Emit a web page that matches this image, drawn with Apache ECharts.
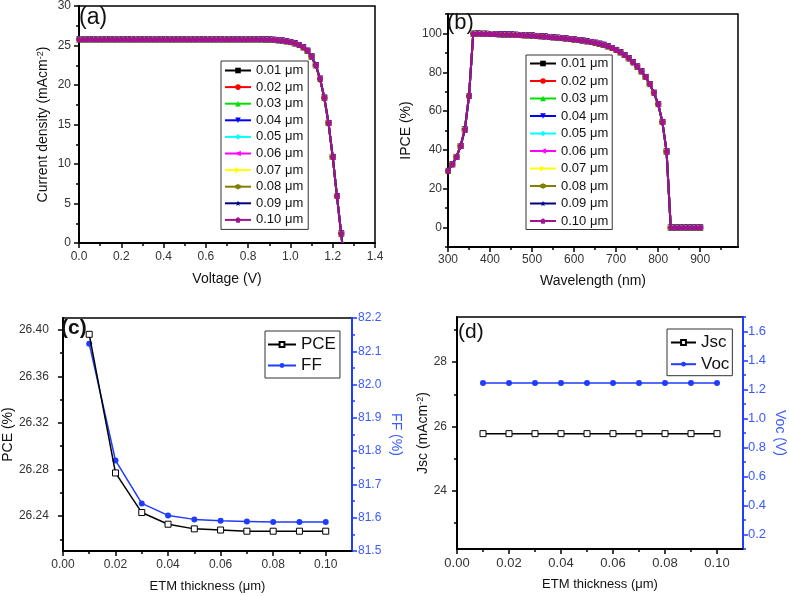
<!DOCTYPE html>
<html><head><meta charset="utf-8">
<script src="https://cdn.jsdelivr.net/npm/echarts@6/dist/echarts.min.js"></script>
<style>html,body{margin:0;padding:0;background:#fff}#c{width:789px;height:596px}</style>
</head><body><div id="c"></div><script>
// ---------- data ----------
const thicknessNames = ['0.01 μm','0.02 μm','0.03 μm','0.04 μm','0.05 μm','0.06 μm','0.07 μm','0.08 μm','0.09 μm','0.10 μm'];
const seriesColors = ['#000000','#ff0000','#00e000','#0000ff','#00ffff','#ff00ff','#ffff00','#808000','#000080','#a0148f'];
const seriesSymbols = ['rect','circle','triangle','triangle','diamond','triangle','triangle',
  'path://M-8.66,-5 L0,-10 8.66,-5 8.66,5 0,10 -8.66,5Z',
  'path://M0,-10 L2.35,-3.24 9.51,-3.09 3.8,1.24 5.88,8.09 0,4 -5.88,8.09 -3.8,1.24 -9.51,-3.09 -2.35,-3.24Z',
  'path://M0,-10 L9.51,-3.09 5.88,8.09 -5.88,8.09 -9.51,-3.09Z'];
const seriesSymbolRotate = [0,0,0,180,0,90,-90,0,0,0];

const voltage = [0.00,0.02,0.04,0.06,0.08,0.10,0.12,0.14,0.16,0.18,0.20,0.22,0.24,0.26,0.28,0.30,0.32,0.34,0.36,0.38,
  0.40,0.42,0.44,0.46,0.48,0.50,0.52,0.54,0.56,0.58,0.60,0.62,0.64,0.66,0.68,0.70,0.72,0.74,0.76,0.78,
  0.80,0.82,0.84,0.86,0.88,0.90,0.92,0.94,0.96,0.98,1.00,1.02,1.04,1.06,1.08,1.10,1.12,1.14,1.16,1.18,
  1.20,1.22,1.24,1.245];
const currentDensity = [25.78,25.78,25.78,25.78,25.78,25.78,25.78,25.78,25.78,25.78,25.78,25.78,25.78,25.78,25.78,25.78,25.78,25.78,25.78,25.78,
  25.78,25.78,25.78,25.78,25.78,25.78,25.78,25.78,25.78,25.78,25.78,25.78,25.78,25.78,25.78,25.78,25.78,25.78,25.78,25.78,
  25.78,25.78,25.78,25.78,25.77,25.75,25.72,25.68,25.62,25.54,25.43,25.28,25.07,24.78,24.34,23.6,22.5,20.8,18.4,15.2,
  10.9,5.95,1.2,0];

const wavelength = [300,310,320,330,340,350,360,370,380,390,400,410,420,430,440,450,460,470,480,490,
  500,510,520,530,540,550,560,570,580,590,600,610,620,630,640,650,660,670,680,690,
  700,710,720,730,740,750,760,770,780,790,800,810,820,830,840,850,860,870,880,890,900];
const ipce = [29.2,32.6,36.4,42.0,50.5,67.8,99.8,99.9,99.8,99.8,99.7,99.7,99.6,99.5,99.5,99.4,99.3,99.2,99.1,99.0,
  98.9,98.7,98.6,98.4,98.2,98.0,97.8,97.6,97.4,97.1,96.9,96.6,96.3,96.0,95.6,95.2,94.7,94.1,93.4,92.5,
  91.5,90.3,88.9,87.2,85.2,82.9,80.5,77.6,73.9,69.4,63.6,54.4,39.2,0,0,0,0,0,0,0,0];

const etmThickness = [0.01,0.02,0.03,0.04,0.05,0.06,0.07,0.08,0.09,0.10];
const pce = [26.396,26.277,26.243,26.233,26.229,26.228,26.227,26.227,26.227,26.227];
const ff = [82.123,81.772,81.643,81.607,81.595,81.591,81.589,81.587,81.587,81.587];
const jsc = [25.78,25.78,25.78,25.78,25.78,25.78,25.78,25.78,25.78,25.78];
const voc = [1.245,1.245,1.245,1.245,1.245,1.245,1.245,1.245,1.245,1.245];

// tick values
const ticksAx = [0,0.2,0.4,0.6,0.8,1.0,1.2,1.4], minorAx = [0.1,0.3,0.5,0.7,0.9,1.1,1.3];
const ticksAy = [0,5,10,15,20,25,30], minorAy = [2.5,7.5,12.5,17.5,22.5,27.5];
const ticksBx = [300,400,500,600,700,800,900], minorBx = [350,450,550,650,750,850,950];
const ticksBy = [0,20,40,60,80,100], minorBy = [-10,10,30,50,70,90,110];
const ticksEtm = [0,0.02,0.04,0.06,0.08,0.10], minorEtm = [0.01,0.03,0.05,0.07,0.09];
const ticksPce = [26.24,26.28,26.32,26.36,26.40], minorPce = [26.22,26.26,26.30,26.34,26.38];
const ticksFf = [81.5,81.6,81.7,81.8,81.9,82.0,82.1,82.2], minorFf = [81.55,81.65,81.75,81.85,81.95,82.05,82.15];
const ticksJsc = [24,26,28], minorJsc = [23,25,27,29];
const ticksVoc = [0.2,0.4,0.6,0.8,1.0,1.2,1.4,1.6], minorVoc = [0.1,0.3,0.5,0.7,0.9,1.1,1.3,1.5,1.7];

// ---------- axes ----------
const FONT = 'Liberation Sans, Arial, Helvetica, sans-serif';
const BLUE = '#1f3cff', BLUE_TXT = '#3a5aff';
const xAxes = [], yAxes = [];
function addAxis(list, c) {
  const col = c.color || '#000';
  const base = {type:'value', gridIndex:c.grid, min:c.min, max:c.max, position:c.position, splitLine:{show:false}};
  const idx = list.length;
  list.push(Object.assign({}, base, {
    name: c.name, nameLocation:'middle', nameGap:c.nameGap, nameRotate:c.nameRotate,
    nameTextStyle: Object.assign({fontSize:c.nameSize||14, color:c.nameColor||'#111', fontFamily:FONT}, c.rich?{rich:c.rich}:{}),
    axisLine:{show:true, onZero:false, lineStyle:{color:col, width:2}},
    axisTick:{show:true, inside:false, length:5, customValues:c.major, lineStyle:{color:col, width:1.5}},
    axisLabel:{show:true, customValues:c.major, margin:c.margin, fontSize:c.labelSize||12, color:c.labelColor||'#333', fontFamily:FONT,
      formatter: v => Number(v).toFixed(c.dec)}
  }));
  list.push(Object.assign({}, base, {
    axisLine:{show:false, onZero:false},
    axisTick:{show:true, inside:false, length:3, customValues:c.minor, lineStyle:{color:col, width:1.5}},
    axisLabel:{show:false}
  }));
  return idx;
}
const supRich = {n:{fontSize:14, color:'#111', fontFamily:FONT}, s:{fontSize:9, color:'#111', verticalAlign:'top', fontFamily:FONT}};

const xa = addAxis(xAxes, {grid:0, min:0, max:1.4, position:'bottom', major:ticksAx, minor:minorAx, dec:1, margin:8,
  name:'Voltage (V)', nameGap:29});
const ya = addAxis(yAxes, {grid:0, min:0, max:30, position:'left', major:ticksAy, minor:minorAy, dec:0, margin:8,
  name:'{n|Current density (mAcm}{s|-2}{n|)}', rich:supRich, nameGap:29});
const xb = addAxis(xAxes, {grid:1, min:300, max:990, position:'bottom', major:ticksBx, minor:minorBx, dec:0, margin:7,
  name:'Wavelength (nm)', nameGap:27});
const yb = addAxis(yAxes, {grid:1, min:-10, max:110, position:'left', major:ticksBy, minor:minorBy, dec:0, margin:6,
  name:'IPCE (%)', nameGap:35});
const xc = addAxis(xAxes, {grid:2, min:0, max:0.11, position:'bottom', major:ticksEtm, minor:minorEtm, dec:2, margin:8,
  name:'ETM thickness (μm)', nameGap:29, nameSize:13});
const yc = addAxis(yAxes, {grid:2, min:26.21, max:26.41, position:'left', major:ticksPce, minor:minorPce, dec:2, margin:14,
  name:'PCE (%)', nameGap:47});
const yc2 = addAxis(yAxes, {grid:2, min:81.5, max:82.2, position:'right', major:ticksFf, minor:minorFf, dec:1, margin:6,
  color:BLUE, labelColor:BLUE_TXT, nameColor:BLUE_TXT, name:'FF (%)', nameGap:37, nameRotate:-90});
const xd = addAxis(xAxes, {grid:3, min:0, max:0.11, position:'bottom', major:ticksEtm, minor:minorEtm, dec:2, margin:8,
  name:'ETM thickness (μm)', nameGap:29, nameSize:13, labelSize:13});
const yd = addAxis(yAxes, {grid:3, min:22.2, max:29.4, position:'left', major:ticksJsc, minor:minorJsc, dec:0, margin:10,
  name:'{n|Jsc (mAcm}{s|-2}{n|)}', rich:supRich, nameGap:25});
const yd2 = addAxis(yAxes, {grid:3, min:0.1, max:1.7, position:'right', major:ticksVoc, minor:minorVoc, dec:1, margin:5,
  color:BLUE, labelColor:BLUE_TXT, nameColor:BLUE_TXT, name:'Voc (V)', nameGap:30, nameRotate:-90, labelSize:13});

// ---------- series ----------
const series = [];
thicknessNames.forEach((nm, k) => {
  const common = {type:'line', name:nm, color:seriesColors[k], symbol:seriesSymbols[k], symbolRotate:seriesSymbolRotate[k],
    symbolSize:6, lineStyle:{width:2}, itemStyle:{color:seriesColors[k]}, z:2+k};
  series.push(Object.assign({}, common, {xAxisIndex:xa, yAxisIndex:ya,
    data: voltage.map((v, i) => i === voltage.length - 1 ? {value:[v, currentDensity[i]], symbol:'none'} : [v, currentDensity[i]])}));
  series.push(Object.assign({}, common, {xAxisIndex:xb, yAxisIndex:yb,
    data: wavelength.map((w, i) => [w, ipce[i]])}));
});
const openSq = {type:'line', symbol:'rect', symbolSize:6, lineStyle:{color:'#000', width:1.5},
  itemStyle:{color:'#fff', borderColor:'#000', borderWidth:1}, z:5};
const blueDot = {type:'line', symbol:'circle', symbolSize:6, lineStyle:{color:BLUE, width:1.5},
  itemStyle:{color:BLUE}, z:4};
series.push(Object.assign({}, openSq, {name:'PCE', xAxisIndex:xc, yAxisIndex:yc, data:etmThickness.map((t,i)=>[t,pce[i]])}));
series.push(Object.assign({}, blueDot, {name:'FF', xAxisIndex:xc, yAxisIndex:yc2, data:etmThickness.map((t,i)=>[t,ff[i]])}));
series.push(Object.assign({}, openSq, {name:'Jsc', xAxisIndex:xd, yAxisIndex:yd, data:etmThickness.map((t,i)=>[t,jsc[i]])}));
series.push(Object.assign({}, blueDot, {name:'Voc', xAxisIndex:xd, yAxisIndex:yd2, data:etmThickness.map((t,i)=>[t,voc[i]])}));

const legendCommon = {orient:'vertical', borderColor:'#333', borderWidth:1, backgroundColor:'#fff', selectedMode:false,
  itemWidth:26, itemHeight:7, textStyle:{fontSize:13, color:'#111', fontFamily:FONT}};

const option = {
  animation:false,
  backgroundColor:'#fff',
  textStyle:{fontFamily:FONT},
  grid:[
    {left:79, top:6, width:296, height:237, show:true, borderColor:'#000', borderWidth:1.5, backgroundColor:'transparent'},
    {left:448, top:14, width:290, height:233, show:true, borderColor:'#000', borderWidth:1.5, backgroundColor:'transparent'},
    {left:61, top:318, width:291, height:233, show:true, borderColor:'#000', borderWidth:1.5, backgroundColor:'transparent'},
    {left:457, top:317, width:286, height:232, show:true, borderColor:'#000', borderWidth:1.5, backgroundColor:'transparent'}
  ],
  xAxis:xAxes, yAxis:yAxes, series:series,
  legend:[
    Object.assign({}, legendCommon, {data:thicknessNames, left:221, top:61, padding:[3,5,3,3], itemGap:3.6}),
    Object.assign({}, legendCommon, {data:thicknessNames, left:526, top:55, padding:[2,4,2,3], itemGap:4.5}),
    Object.assign({}, legendCommon, {data:['PCE','FF'], left:265, top:331, padding:[5,4,4,2], itemGap:4, itemWidth:28, itemHeight:6,
      textStyle:{fontSize:17, color:'#111', fontFamily:FONT}}),
    Object.assign({}, legendCommon, {data:['Jsc','Voc'], left:667, top:329, padding:[5,3,3,3], itemGap:4.7, itemWidth:25, itemHeight:6,
      textStyle:{fontSize:17, color:'#111', fontFamily:FONT}})
  ],
  graphic:[
    {type:'text', left:79, top:6, z:100, style:{text:'(a)', fontSize:23, fill:'#111', font:'23px ' + FONT}},
    {type:'text', left:447, top:12, z:100, style:{text:'(b)', fontSize:22, fill:'#111', font:'22px ' + FONT}},
    {type:'text', left:61, top:318, z:100, style:{text:'(c)', fontSize:21, fontWeight:'bold', fill:'#111', font:'bold 21px ' + FONT}},
    {type:'text', left:458, top:322, z:100, style:{text:'(d)', fontSize:21, fill:'#111', font:'21px ' + FONT}}
  ]
};
const chart = echarts.init(document.getElementById('c'), null, {renderer:'canvas'});
chart.setOption(option);
</script></body></html>
